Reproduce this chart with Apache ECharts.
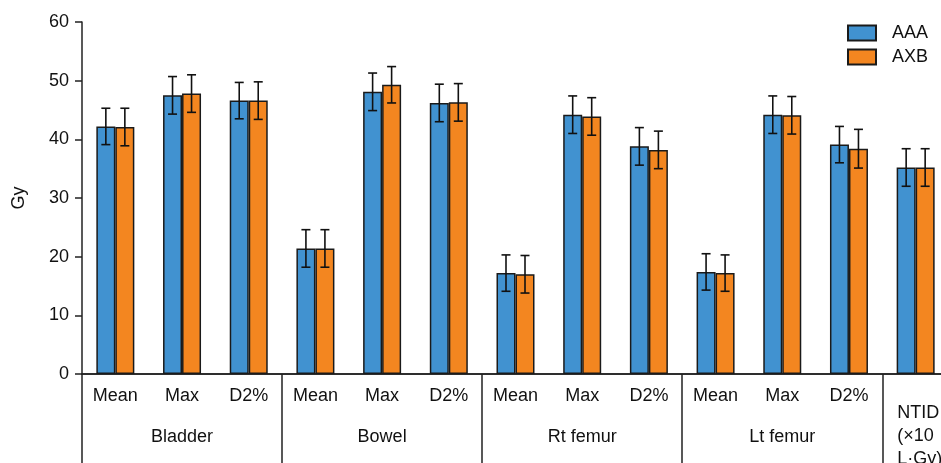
<!DOCTYPE html>
<html>
<head>
<meta charset="utf-8">
<script src="https://cdn.jsdelivr.net/npm/echarts@6/dist/echarts.min.js"></script>
<style>
  html, body { margin: 0; padding: 0; background: #fff; }
  #chart { width: 941px; height: 463px; }
</style>
</head>
<body>
<div id="chart"></div>
<script>
// sub categories along the axis (last slot is NTID)
var subLabels = ["Mean", "Max", "D2%", "Mean", "Max", "D2%", "Mean", "Max", "D2%", "Mean", "Max", "D2%", "NTID"];
var groupLabels = ["", "Bladder", "", "", "Bowel", "", "", "Rt femur", "", "", "Lt femur", "", ""];
var seriesNames = ["AAA", "AXB"];

var aaaMean = [42.2, 47.5, 46.6, 21.4, 48.1, 46.2, 17.2, 44.2, 38.8, 17.4, 44.2, 39.1, 35.2];
var aaaErr = [3.1, 3.2, 3.1, 3.2, 3.2, 3.2, 3.1, 3.2, 3.2, 3.1, 3.2, 3.1, 3.2];
var axbMean = [42.1, 47.8, 46.6, 21.4, 49.3, 46.3, 17.0, 43.9, 38.2, 17.2, 44.1, 38.4, 35.2];
var axbErr = [3.2, 3.2, 3.2, 3.2, 3.1, 3.2, 3.2, 3.2, 3.2, 3.1, 3.2, 3.3, 3.2];

var yTicks = { min: 0, max: 60, interval: 10 };

var fontFamily = "'Liberation Sans', Arial, sans-serif";
var axisColor = "#222";
var barWidth = 19;

function errData(mean, err) {
  var out = [];
  for (var i = 0; i < mean.length; i++) {
    out.push([i, mean[i] - err[i], mean[i] + err[i]]);
  }
  return out;
}

function errRenderer(side) {
  return function (params, api) {
    var idx = api.value(0);
    var lo = api.coord([idx, api.value(1)]);
    var hi = api.coord([idx, api.value(2)]);
    var x = lo[0] + side * barWidth / 2;
    var cap = 4.5;
    var style = { stroke: "#111", lineWidth: 1.6, fill: null };
    return {
      type: "group",
      children: [
        { type: "line", shape: { x1: x, y1: hi[1], x2: x, y2: lo[1] }, style: style },
        { type: "line", shape: { x1: x - cap, y1: hi[1], x2: x + cap, y2: hi[1] }, style: style },
        { type: "line", shape: { x1: x - cap, y1: lo[1], x2: x + cap, y2: lo[1] }, style: style }
      ]
    };
  };
}

var subAxisData = subLabels.map(function (s) {
  if (s === "NTID") {
    return { value: "NTID", textStyle: { padding: [15, 0, 0, 8] } };
  }
  return s;
});

var chart = echarts.init(document.getElementById("chart"));
chart.setOption({
  animation: false,
  textStyle: { fontFamily: fontFamily },
  grid: { left: 82, top: 22, width: 867, bottom: 89, containLabel: false, outerBoundsMode: "none" },
  legend: {
    data: seriesNames,
    orient: "vertical",
    left: 847,
    top: 24,
    padding: 0,
    icon: "rect",
    itemWidth: 28,
    itemHeight: 15,
    itemGap: 6,
    textStyle: { fontSize: 18, color: "#111", padding: [0, 0, 0, 11] }
  },
  xAxis: [
    {
      type: "category",
      data: subAxisData,
      axisLine: { lineStyle: { color: axisColor, width: 1.5 } },
      axisTick: { interval: 0, length: 6, lineStyle: { color: axisColor, width: 1.5 } },
      axisLabel: {
        interval: 0,
        margin: 13,
        fontSize: 18,
        color: "#111",
        formatter: function (v) {
          if (v === "NTID") {
            return "{a|NTID}\n{a|(\u00d710}\n{a|L\u00b7Gy)}";
          }
          return v;
        },
        rich: { a: { fontSize: 18, color: "#111", align: "left", lineHeight: 23 } }
      }
    },
    {
      type: "category",
      data: groupLabels,
      position: "bottom",
      axisLine: { show: true, lineStyle: { color: axisColor, width: 1.5 } },
      axisTick: {
        show: true,
        interval: function (i) { return i % 3 === 0; },
        length: 89,
        lineStyle: { color: axisColor, width: 1.5 }
      },
      axisLabel: { interval: 0, margin: 54, fontSize: 18, color: "#111" }
    }
  ],
  yAxis: {
    type: "value",
    min: yTicks.min,
    max: yTicks.max,
    interval: yTicks.interval,
    name: "Gy",
    nameLocation: "middle",
    nameGap: 54,
    nameTextStyle: { fontSize: 18, color: "#111" },
    axisLine: { show: true, lineStyle: { color: axisColor, width: 1.5 } },
    axisTick: { show: true, length: 7, lineStyle: { color: axisColor, width: 1.5 } },
    axisLabel: { fontSize: 18, color: "#111", margin: 13 },
    splitLine: { show: false }
  },
  series: [
    {
      name: "AAA",
      type: "bar",
      data: aaaMean,
      barWidth: barWidth,
      barGap: "0%",
      itemStyle: { color: "#4192d0", borderColor: "#1a1a1a", borderWidth: 1.5 }
    },
    {
      name: "AXB",
      type: "bar",
      data: axbMean,
      barWidth: barWidth,
      barGap: "0%",
      itemStyle: { color: "#f38620", borderColor: "#1a1a1a", borderWidth: 1.5 }
    },
    {
      name: "AAA err",
      type: "custom",
      renderItem: errRenderer(-1),
      encode: { x: 0, y: [1, 2] },
      data: errData(aaaMean, aaaErr),
      z: 10
    },
    {
      name: "AXB err",
      type: "custom",
      renderItem: errRenderer(1),
      encode: { x: 0, y: [1, 2] },
      data: errData(axbMean, axbErr),
      z: 10
    }
  ]
});
</script>
</body>
</html>
